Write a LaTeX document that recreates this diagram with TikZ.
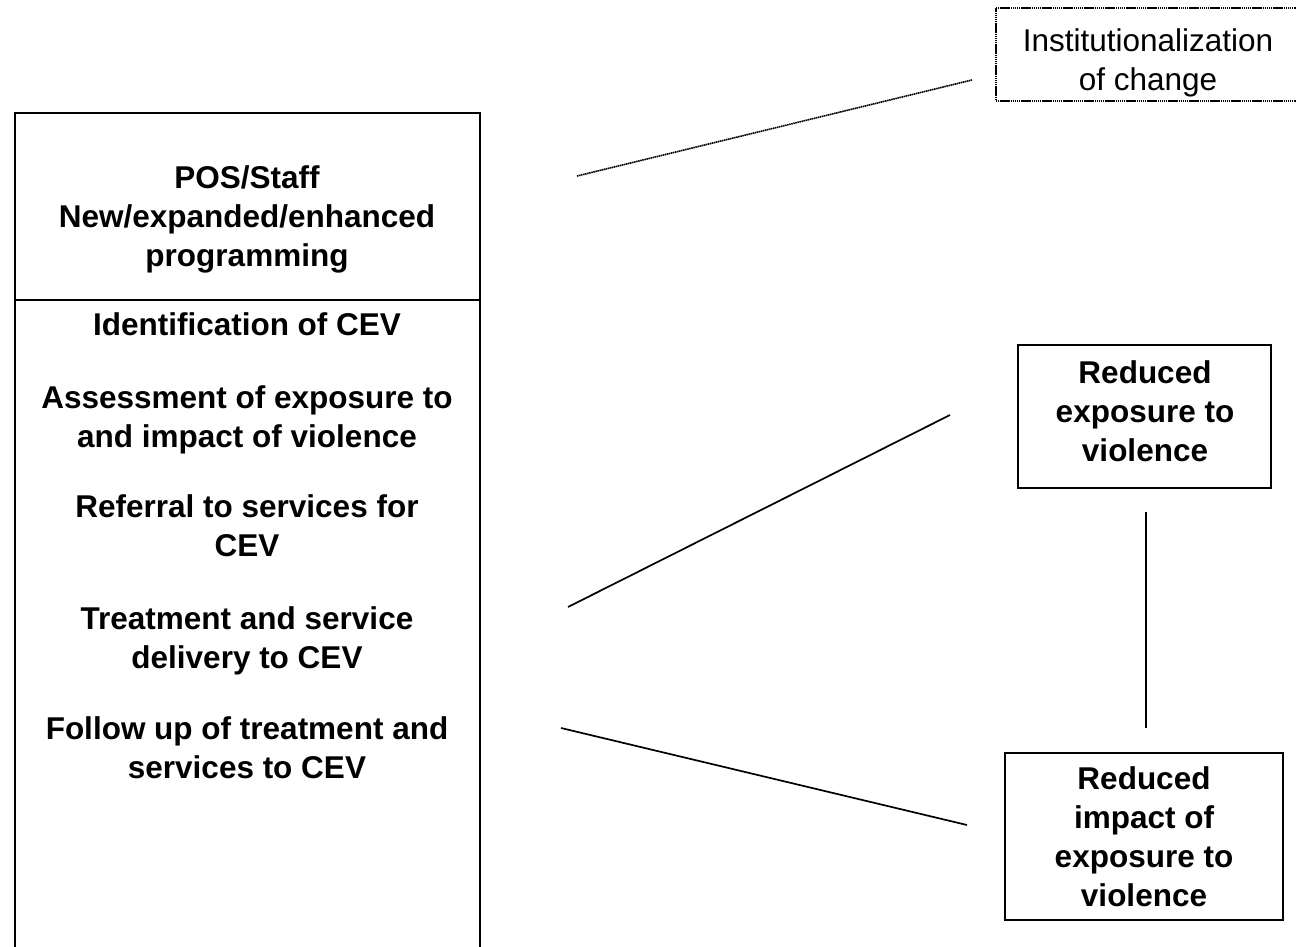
\documentclass[tikz,border=0pt]{standalone}
\usepackage{fontspec}
\setmainfont{Liberation Sans}
\usepackage{tikz}
\NewDocumentCommand{\bigtext}{}{\fontsize{31.5}{39}\selectfont}
\tikzset{/CEV/S/block/.style={
	shape=rectangle, draw=black, line width=2pt, align=center, inner sep=0pt
}}
\tikzset{/CEV/S/outcome/.style={
	/CEV/S/block, font=\bigtext\bfseries
}}
\tikzset{/CEV/S/item/.style={
	align=center, font=\bigtext\bfseries, inner sep=0pt
}}
\tikzset{/CEV/S/link/.style={
	draw=black, line width=1.7pt
}}
\tikzset{/CEV/S/dotlink/.style={
	draw=black, line width=1.6pt, dash pattern=on 1.5pt off 0.6pt
}}

\begin{document}
\begin{tikzpicture}[x=1pt, y=-1pt]
			\useasboundingbox (0,0) rectangle (1296,947);
			% left column
			\path (14,112) node[/CEV/S/block, anchor=north west,
				minimum width=465pt, minimum height=860pt] (program) {};
			\draw[line width=2pt] (14,300) -- (479,300);
			\path (247,219) node[/CEV/S/item] (staff) {POS/Staff\\New/expanded/enhanced\\programming};
			\path (247,324) node[/CEV/S/item] (ident) {Identification of CEV};
			\path (247,420) node[/CEV/S/item] (assess) {Assessment of exposure to\\and impact of violence};
			\path (247,526) node[/CEV/S/item] (refer) {Referral to services for\\CEV};
			\path (247,641) node[/CEV/S/item] (treat) {Treatment and service\\delivery to CEV};
			\path (247,748) node[/CEV/S/item] (follow) {Follow up of treatment and\\services to CEV};
			% outcomes
			\path (995,7) node[/CEV/S/dotlink, shape=rectangle, anchor=north west,
				minimum width=306pt, minimum height=93pt, inner sep=0pt] (inst) {};
			\path (1148,63) node[align=center, inner sep=0pt, font=\bigtext] (instText)
				{Institutionalization\\of change};
			\path (1017,344) node[/CEV/S/block, anchor=north west,
				minimum width=253pt, minimum height=143pt] (expo) {};
			\path (1145,411) node[/CEV/S/item] (expoText) {Reduced\\exposure to\\violence};
			\path (1004,752) node[/CEV/S/outcome, anchor=north west,
				minimum width=278pt, minimum height=167pt] (impact) {Reduced\\impact of\\exposure to\\violence};
			% line ends
			\coordinate (staffR) at (577,176);
			\coordinate (instL) at (972,80);
			\coordinate (treatR) at (568,607);
			\coordinate (expoL) at (950,415);
			\coordinate (expoB) at (1146,512);
			\coordinate (impactT) at (1146,728);
			\coordinate (followR) at (561,728);
			\coordinate (impactL) at (967,825);
			\draw[/CEV/S/dotlink] (staffR) -- (instL);
			\draw[/CEV/S/link] (treatR) -- (expoL);
			\draw[/CEV/S/link] (expoB) -- (impactT);
			\draw[/CEV/S/link] (followR) -- (impactL);
		\end{tikzpicture}
\end{document}
